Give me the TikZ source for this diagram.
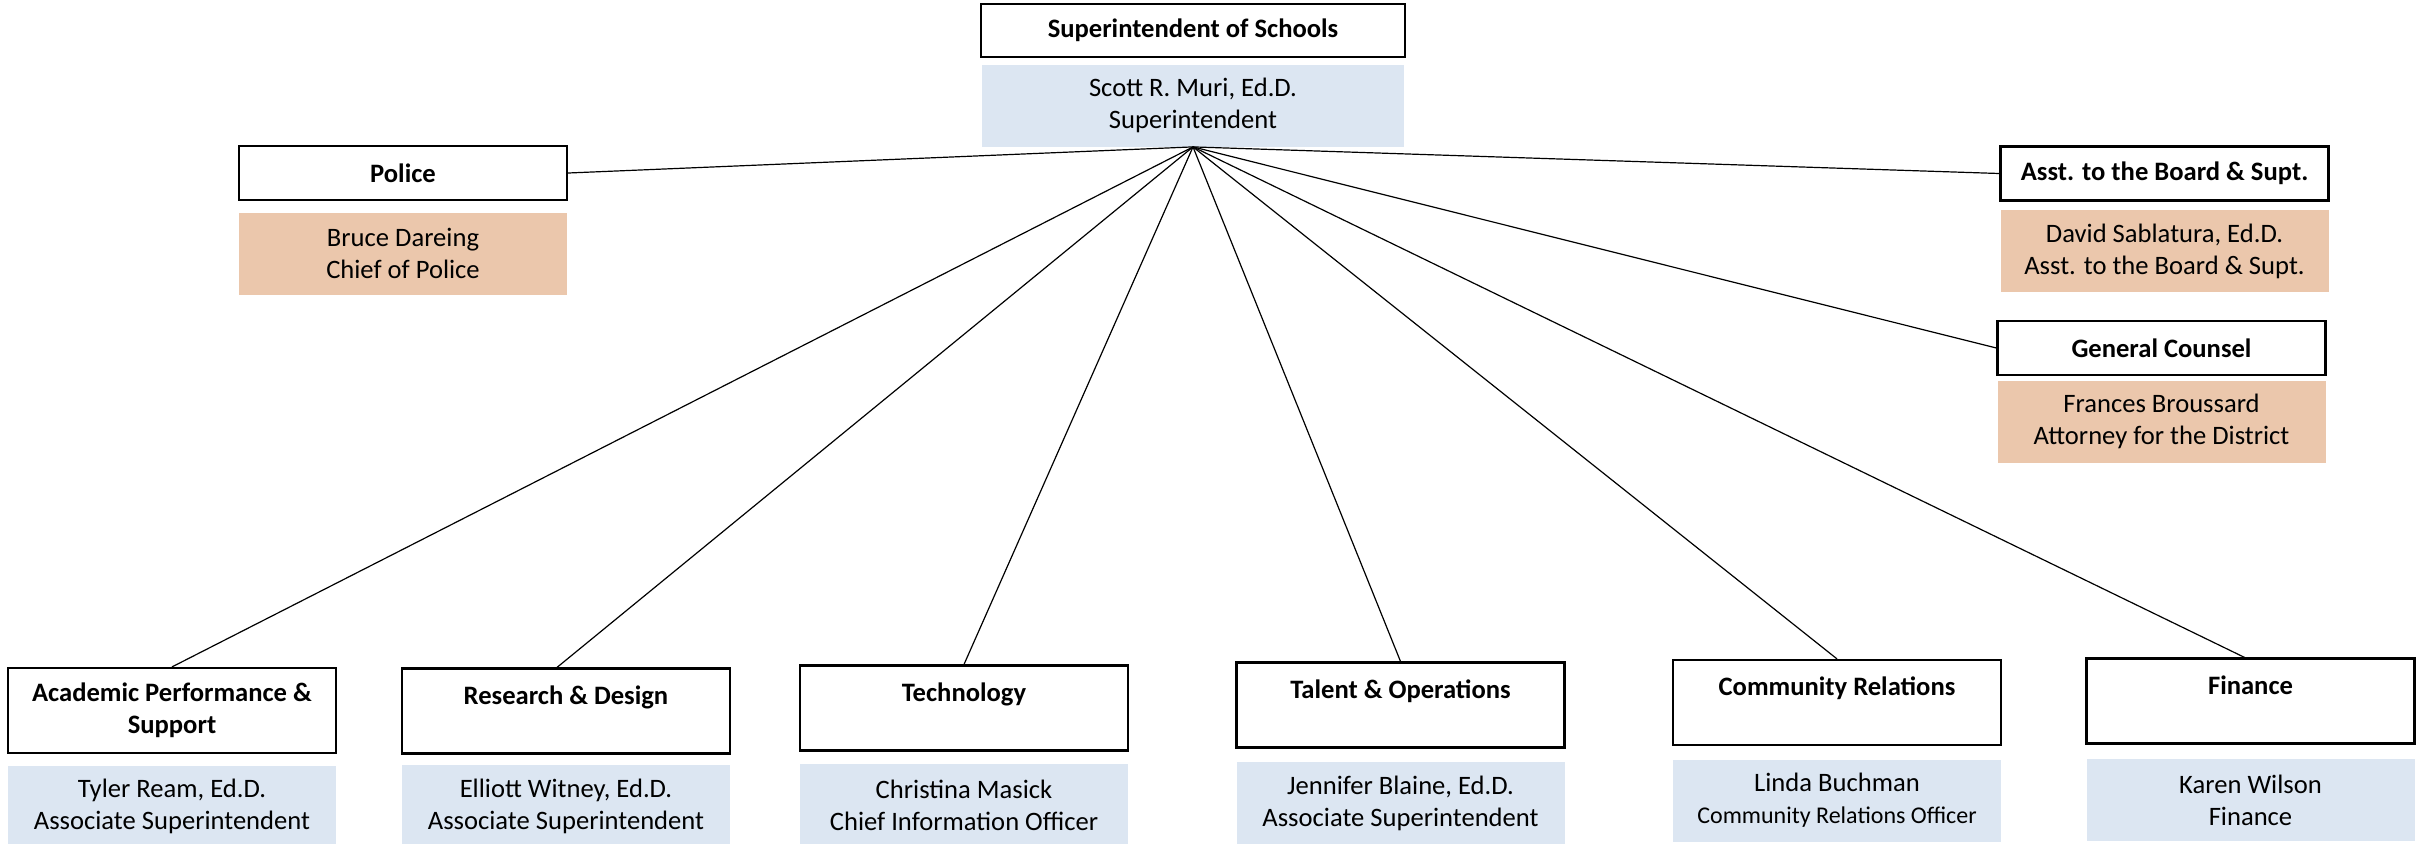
\documentclass[tikz,border=0pt]{standalone}
\usepackage{fontspec}
\setmainfont{Carlito}
\usepackage{tikz}
\usetikzlibrary{positioning}

\definecolor{nameblue}{RGB}{220,230,242}
\definecolor{nametan}{RGB}{235,199,172}

\begin{document}
\begin{tikzpicture}[x=0.5pt, y=-0.5pt,
    office/.style={draw, line width=1.1pt, fill=white, minimum width=164pt, minimum height=27pt,
        align=center, inner sep=1pt, font=\fontsize{13.3}{16}\selectfont\bfseries},
    dept/.style={office, minimum height=42.5pt},
    holder/.style={fill=nameblue, minimum width=164pt, minimum height=41pt,
        align=center, inner sep=1pt, font=\fontsize{13.3}{16}\selectfont},
    staff/.style={holder, fill=nametan},
    link/.style={line width=0.6pt}]

        \useasboundingbox (0,0) rectangle (2422,843);

        % Superintendent
        \node[office, minimum width=212pt, minimum height=26.5pt] (sup) at (1193,30.5) {Superintendent of Schools};
        \node[holder, minimum width=211pt, below=3pt of sup] (supname) {Scott R. Muri, Ed.D.\\Superintendent};

        % Staff offices
        \node[office] (police) at (403,173) {Police};
        \node[staff, below=5.5pt of police] (policename) {Bruce Dareing\\Chief of Police};

        \node[office] (asst) at (2164.5,173.5) {Asst. to the Board \& Supt.};
        \node[staff, below=4pt of asst] (asstname) {David Sablatura, Ed.D.\\Asst. to the Board \& Supt.};

        \node[office] (counsel) at (2161.5,348) {General Counsel};
        \node[staff, below=2pt of counsel] (counselname) {Frances Broussard\\Attorney for the District};

        % Departments
        \node[dept] (academic) at (172,710.5) {Academic Performance \&\\Support};
        \node[holder, below=5.5pt of academic] (academicname) {Tyler Ream, Ed.D.\\Associate Superintendent};

        \node[dept] (research) at (566,711) {Research \& Design\\~};
        \node[holder, below=5pt of research] (researchname) {Elliott Witney, Ed.D.\\Associate Superintendent};

        \node[dept] (technology) at (964,708) {Technology\\~};
        \node[holder, below=6pt of technology] (technologyname) {Christina Masick\\Chief Information Officer};

        \node[dept] (talent) at (1400.5,705) {Talent \& Operations\\~};
        \node[holder, below=6.5pt of talent] (talentname) {Jennifer Blaine, Ed.D.\\Associate Superintendent};

        \node[dept] (community) at (1837,702.5) {Community Relations\\~};
        \node[holder, below=6.5pt of community] (communityname) {Linda Buchman\\{\fontsize{12}{16}\selectfont Community Relations Officer}};

        \node[dept] (finance) at (2250.5,701) {Finance\\~};
        \node[holder, below=7pt of finance] (financename) {Karen Wilson\\Finance};

        % Reporting lines
        \draw[link] (supname.south) -- (police.east);
        \draw[link] (supname.south) -- (asst.west);
        \draw[link] (supname.south) -- (counsel.west);
        \draw[link] (supname.south) -- (academic.north);
        \draw[link] (supname.south) -- ([xshift=-4.5pt]research.north);
        \draw[link] (supname.south) -- (technology.north);
        \draw[link] (supname.south) -- (talent.north);
        \draw[link] (supname.south) -- (community.north);
        \draw[link] (supname.south) -- ([xshift=-3pt]finance.north);

    \end{tikzpicture}
\end{document}
